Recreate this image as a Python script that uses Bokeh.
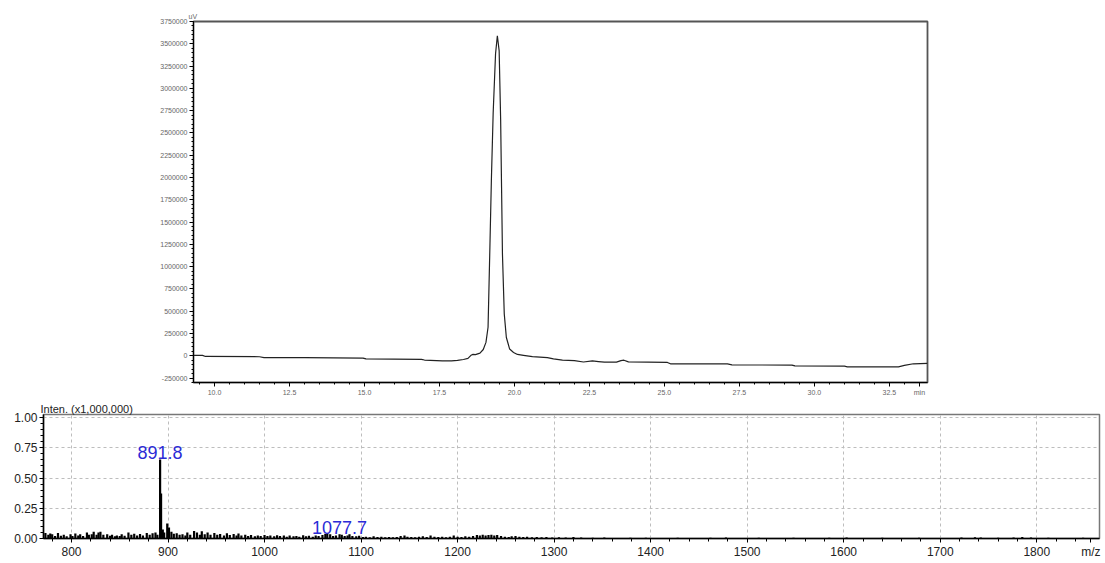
from bokeh.plotting import figure
from bokeh.models import Range1d, FixedTicker, NumeralTickFormatter, ColumnDataSource
from bokeh.embed import file_html
from bokeh.resources import INLINE
from bokeh.core.properties import value

# ---------------- Chromatogram (top) ----------------
lc_time = [9.3, 9.6, 9.7, 11.5, 11.65, 13.0, 14.95, 15.05, 16.9, 17.0, 17.6, 17.9,
           18.1, 18.3, 18.45, 18.55, 18.62, 18.7, 18.85, 18.96, 19.05, 19.12, 19.18,
           19.23, 19.29, 19.37, 19.43, 19.49, 19.54, 19.57, 19.60, 19.66, 19.73, 19.84,
           19.97, 20.1, 20.3, 20.6, 21.1, 21.3, 21.6, 22.0, 22.3, 22.6, 22.8, 23.0,
           23.4, 23.55, 23.65, 23.8, 25.1, 25.2, 27.1, 27.25, 29.25, 29.35, 31.0, 31.1,
           32.8, 33.0, 33.3, 33.77]
lc_signal = [5000, 4000, -8000, -11000, -20000, -22000, -26000, -35000, -40000, -48000,
             -57000, -58000, -52000, -42000, -30000, 5000, 15000, 12000, 30000, 70000,
             150000, 320000, 1200000, 1960000, 2720000, 3390000, 3590000, 3420000,
             2640000, 1890000, 1140000, 470000, 205000, 75000, 37000, 15000, 5000,
             -10000, -20000, -35000, -50000, -55000, -70000, -58000, -65000, -72000,
             -72000, -55000, -50000, -68000, -75000, -90000, -92000, -102000, -105000,
             -114000, -116000, -125000, -124000, -108000, -90000, -85000]
lc_xticks = [10.0, 12.5, 15.0, 17.5, 20.0, 22.5, 25.0, 27.5, 30.0, 32.5]
lc_yticks = [-250000, 0, 250000, 500000, 750000, 1000000, 1250000, 1500000, 1750000,
             2000000, 2250000, 2500000, 2750000, 3000000, 3250000, 3500000, 3750000]
lc_xunit = "min"
lc_yunit = "uV"

# ---------------- Mass spectrum (bottom) ----------------
ms_sticks = [
    (773, 0.045), (776, 0.03), (778, 0.042), (780, 0.036), (783, 0.02), (786, 0.045),
    (789, 0.022), (792, 0.03), (795, 0.018), (799, 0.035), (801, 0.02), (804, 0.042),
    (807, 0.025), (809, 0.036), (812, 0.02), (816, 0.05), (818, 0.03), (821, 0.035),
    (823, 0.055), (826, 0.03), (828, 0.05), (830, 0.056), (833, 0.03), (837, 0.035),
    (840, 0.022), (842, 0.03), (845, 0.018), (847, 0.025), (850, 0.02), (852, 0.035),
    (855, 0.022), (859, 0.05), (862, 0.03), (865, 0.04), (868, 0.025), (871, 0.037),
    (874, 0.025), (878, 0.045), (881, 0.03), (884, 0.043), (887, 0.05), (889, 0.03),
    (891.8, 0.653), (892.8, 0.371), (894.6, 0.075), (896, 0.05), (899.2, 0.125),
    (901, 0.09), (903.5, 0.055), (906, 0.04), (909, 0.044), (912, 0.03), (915, 0.036),
    (918, 0.025), (920, 0.05), (923, 0.03), (927, 0.062), (930, 0.05), (933, 0.03),
    (935, 0.06), (938, 0.035), (941, 0.05), (944, 0.03), (948, 0.045), (951, 0.03),
    (954, 0.037), (958, 0.025), (961, 0.043), (964, 0.028), (968, 0.037), (971, 0.025),
    (973, 0.042), (976, 0.025), (980, 0.03), (983, 0.02), (986, 0.028), (990, 0.018),
    (993, 0.025), (996, 0.02), (1000, 0.028), (1003, 0.02), (1006, 0.024), (1010, 0.018),
    (1013, 0.027), (1016, 0.02), (1020, 0.025), (1023, 0.015), (1026, 0.024), (1030, 0.018),
    (1033, 0.02), (1036, 0.015), (1040, 0.026), (1043, 0.018), (1046, 0.022), (1050, 0.015),
    (1053, 0.025), (1056, 0.02), (1060, 0.028), (1063, 0.04), (1065, 0.045), (1068, 0.035),
    (1071, 0.02), (1074, 0.025), (1077.7, 0.035), (1080, 0.03), (1083, 0.02), (1086, 0.025),
    (1088, 0.035), (1091, 0.02), (1095, 0.018), (1098, 0.022), (1102, 0.012), (1105, 0.015),
    (1109, 0.01), (1113, 0.018), (1117, 0.012), (1121, 0.015), (1125, 0.01), (1129, 0.013),
    (1133, 0.01), (1137, 0.012), (1141, 0.02), (1145, 0.025), (1148, 0.015), (1152, 0.012),
    (1156, 0.01), (1160, 0.014), (1164, 0.018), (1168, 0.012), (1172, 0.025), (1176, 0.015),
    (1180, 0.012), (1184, 0.015), (1188, 0.01), (1192, 0.014), (1196, 0.025), (1200, 0.015),
    (1204, 0.012), (1208, 0.018), (1212, 0.015), (1216, 0.02), (1220, 0.028), (1223, 0.025),
    (1226, 0.03), (1229, 0.025), (1232, 0.028), (1235, 0.03), (1238, 0.025), (1241, 0.028),
    (1245, 0.02), (1249, 0.015), (1253, 0.012), (1256, 0.018), (1260, 0.02), (1264, 0.015),
    (1268, 0.012), (1272, 0.015), (1277, 0.01), (1282, 0.012), (1287, 0.01), (1292, 0.012),
    (1298, 0.008), (1305, 0.01), (1312, 0.008), (1320, 0.012), (1328, 0.008),
    (1340, 0.006), (1352, 0.008), (1366, 0.005), (1379, 0.007), (1395, 0.006), (1410, 0.005),
    (1428, 0.007), (1446, 0.005), (1462, 0.006), (1478, 0.008), (1495, 0.005), (1512, 0.006),
    (1530, 0.005), (1548, 0.007), (1566, 0.005), (1585, 0.006), (1603, 0.008), (1620, 0.005),
    (1640, 0.006), (1660, 0.005), (1678, 0.006), (1697, 0.005), (1722, 0.008), (1736, 0.01),
    (1742, 0.008), (1760, 0.006), (1776, 0.009), (1785, 0.012), (1794, 0.008), (1812, 0.006),
    (1830, 0.005), (1848, 0.006),
]
ms_mz = [m for m, _ in ms_sticks]
ms_int = [i for _, i in ms_sticks]
ms_label_text = ["891.8", "1077.7"]
ms_label_mz = [891.8, 1077.7]
ms_label_int = [0.653, 0.035]
ms_xticks = [800, 900, 1000, 1100, 1200, 1300, 1400, 1500, 1600, 1700, 1800]
ms_yticks = [0.0, 0.25, 0.5, 0.75, 1.0]
ms_xunit = "m/z"
ms_ytitle = "Inten. (x1,000,000)"

FONT = "Liberation Sans"

# ---------------- Top figure ----------------
p1 = figure(width=1105, height=400, x_range=Range1d(9.3, 33.77),
            y_range=Range1d(-300000, 3750000), output_backend="svg",
            toolbar_location=None, min_border_left=193, min_border_right=178,
            min_border_top=21, min_border_bottom=18)
p1.xgrid.visible = False
p1.ygrid.visible = False
p1.outline_line_color = "#555555"
p1.outline_line_width = 1.8
p1.line(lc_time, lc_signal, line_color="#222222", line_width=1.2)

minor_x = [9.5 + 0.5 * i for i in range(48)]
minor_y = [-300000 + 50000 * i for i in range(82)]
p1.xaxis.ticker = FixedTicker(ticks=lc_xticks + [33.5], minor_ticks=minor_x)
p1.yaxis.ticker = FixedTicker(ticks=lc_yticks, minor_ticks=minor_y)
p1.xaxis.formatter = NumeralTickFormatter(format="0.0")
p1.xaxis.major_label_overrides = {33.5: lc_xunit}
p1.yaxis.formatter = NumeralTickFormatter(format="0")
for ax in (p1.xaxis[0], p1.yaxis[0]):
    ax.axis_line_color = "black"
    ax.axis_line_width = 1
    ax.major_tick_line_color = "black"
    ax.minor_tick_line_color = "black"
    ax.major_tick_in = 0
    ax.major_tick_out = 4
    ax.minor_tick_in = 0
    ax.minor_tick_out = 2
    ax.major_label_text_font = FONT
    ax.major_label_text_font_size = "7px"
    ax.major_label_text_color = "#666666"
    ax.major_label_standoff = 2

p1.title.text = lc_yunit
p1.title.align = "left"
p1.title.offset = -5
p1.title.standoff = 3
p1.title.text_font = FONT
p1.title.text_font_size = "7px"
p1.title.text_font_style = "normal"
p1.title.text_color = "#666666"

# ---------------- Bottom figure ----------------
p2 = figure(width=1105, height=163, x_range=Range1d(771, 1865),
            y_range=Range1d(0, 1.025), output_backend="svg",
            toolbar_location=None, min_border_left=43, min_border_right=6,
            min_border_top=13, min_border_bottom=25)
p2.outline_line_color = "#777777"
p2.outline_line_width = 1.5
p2.xaxis.ticker = FixedTicker(ticks=ms_xticks + [1856],
                              minor_ticks=[780 + 20 * i for i in range(54)])
p2.xaxis.major_label_overrides = {1856: ms_xunit}
p2.yaxis.ticker = FixedTicker(ticks=ms_yticks, minor_ticks=[0.05 * i for i in range(21)])
p2.yaxis.formatter = NumeralTickFormatter(format="0.00")
p2.xgrid.ticker = FixedTicker(ticks=ms_xticks)
for g in (p2.xgrid[0], p2.ygrid[0]):
    g.grid_line_color = "#bdbdbd"
    g.grid_line_dash = "3 3"
    g.grid_line_width = 1
for ax in (p2.xaxis[0], p2.yaxis[0]):
    ax.axis_line_color = "black"
    ax.axis_line_width = 1.5
    ax.major_tick_line_color = "black"
    ax.minor_tick_line_color = "black"
    ax.major_tick_in = 0
    ax.major_tick_out = 4
    ax.minor_tick_in = 0
    ax.minor_tick_out = 3
    ax.major_label_text_font = FONT
    ax.major_label_text_font_size = "12px"
    ax.major_label_text_color = "#222222"
p2.yaxis.major_label_standoff = 2
p2.xaxis.major_label_standoff = 2

p2.segment(x0=ms_mz, y0=[0] * len(ms_mz), x1=ms_mz, y1=ms_int,
           line_color="black", line_width=2.2)

src = ColumnDataSource(dict(x=ms_label_mz, y=[v + 0.004 for v in ms_label_int],
                            t=ms_label_text))
p2.text(x="x", y="y", text="t", source=src, text_align="center",
        text_baseline="bottom", text_font=value(FONT), text_font_size="18px",
        text_color="#2b2bd6")

p2.title.text = ms_ytitle
p2.title.align = "left"
p2.title.offset = -3
p2.title.standoff = 0
p2.title.text_font = FONT
p2.title.text_font_size = "11px"
p2.title.text_font_style = "normal"
p2.title.text_color = "#222222"

open("out.html", "w").write(file_html([p1, p2], INLINE))
